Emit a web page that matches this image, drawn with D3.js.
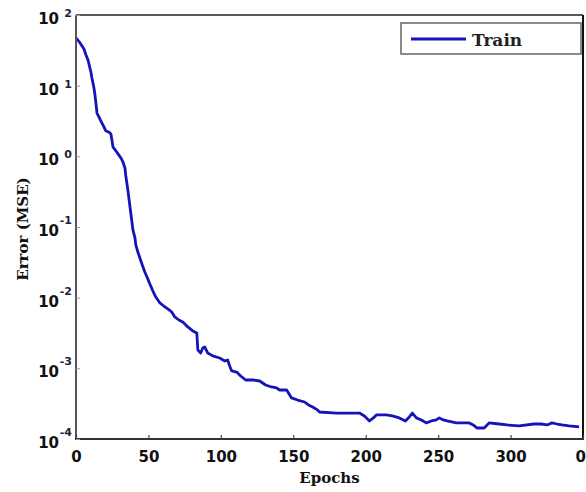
<!DOCTYPE html>
<html>
<head>
<meta charset="utf-8">
<script src="https://cdn.jsdelivr.net/npm/d3@7"></script>
<style>
  html, body { margin: 0; padding: 0; background: #fff; }
  svg { display: block; }
</style>
</head>
<body>
<svg id="chart" width="586" height="492"></svg>
<script>
// ---- data ----
const epochs = [0,2.8,5.5,6.9,8.3,9.6,10.3,11,11.7,12.4,13.1,13.8,14.5,15.8,17.9,19.3,20.7,22.7,24.1,24.8,25.5,27.6,29.6,31,32.4,33.8,34.4,35.1,35.8,36.5,37.2,37.9,38.6,39.3,40.7,41.3,42.7,44.1,45.5,47.5,49.6,51,53.1,55.1,57.9,60.6,63.4,66.1,68.2,71,73.7,77.2,80.6,83.4,84.1,86.1,87.5,88.9,90.9,94.4,99.2,102.7,104.7,106.1,107.5,110.9,113.7,117.1,122,126.8,130.9,135,138.5,140.6,145.4,148.8,153,157.8,160.5,163.3,166.7,168.1,179.8,188.8,195.7,199.1,202.6,205.3,207.4,214.3,218.4,223.2,227.4,230.1,232.2,235,238.4,241.8,245.3,248.7,250.8,253.5,256.3,262.5,271.5,274.2,277,281.8,285.2,292.1,297.6,305.9,316.2,321.1,325.2,328.6,332.1,335.5,340.4,347.3];
const trainMSE = [47.3,40.2,33.0,27.2,23.1,17.8,15.6,12.8,10.9,9.27,7.38,5.51,4.10,3.61,2.96,2.60,2.28,2.21,2.07,1.70,1.36,1.19,1.04,0.948,0.832,0.684,0.527,0.420,0.334,0.258,0.198,0.153,0.118,0.0908,0.0700,0.0557,0.0443,0.0365,0.0300,0.0231,0.0184,0.0156,0.0124,0.0102,0.00841,0.00762,0.00692,0.00627,0.00533,0.00483,0.00453,0.00385,0.00338,0.00316,0.00182,0.00165,0.00194,0.00200,0.00165,0.00150,0.00140,0.00127,0.00131,0.00108,0.000918,0.000887,0.000780,0.000684,0.000684,0.000662,0.000581,0.000545,0.000527,0.000494,0.000494,0.000381,0.000356,0.000334,0.000303,0.000284,0.000258,0.000241,0.000233,0.000233,0.000233,0.000212,0.000180,0.000199,0.000219,0.000219,0.000212,0.000199,0.000180,0.000205,0.000233,0.000199,0.000186,0.000169,0.000180,0.000186,0.000199,0.000186,0.000180,0.000169,0.000169,0.000158,0.000143,0.000143,0.000169,0.000163,0.000158,0.000153,0.000163,0.000163,0.000158,0.000169,0.000163,0.000158,0.000153,0.000148];
const xTicks = [0,50,100,150,200,250,300,350];
const xTickLabels = ["0","50","100","150","200","250","300","0"];
const yTickExps = [2,1,0,-1,-2,-3,-4];
const seriesName = "Train";
const xLabel = "Epochs";
const yLabel = "Error (MSE)";

// ---- layout ----
const W = 586, H = 492;
const L = 76, R = 583, T = 15, B = 439;
const lineColor = "#1414b8";

const svg = d3.select("#chart");
const x = d3.scaleLinear().domain([0, 350]).range([L, R]);
const y = d3.scaleLog().domain([1e-4, 1e2]).range([B, T]);

// plot background
svg.append("rect").attr("x", L).attr("y", T).attr("width", R - L).attr("height", B - T).attr("fill", "#fff");

// data line
const pts = epochs.map((e, i) => [e, trainMSE[i]]);
const line = d3.line().x(d => x(d[0])).y(d => y(d[1]));
svg.append("path").datum(pts)
  .attr("d", line)
  .attr("fill", "none")
  .attr("stroke", lineColor)
  .attr("stroke-width", 2.8)
  .attr("stroke-linejoin", "round");

// frame: top & right black, left & bottom dark gray
svg.append("line").attr("x1", L).attr("x2", R).attr("y1", T).attr("y2", T).attr("stroke", "#222").attr("stroke-width", 1.3);
svg.append("line").attr("x1", R).attr("x2", R).attr("y1", T).attr("y2", B + 1).attr("stroke", "#111").attr("stroke-width", 2);
svg.append("line").attr("x1", L).attr("x2", L).attr("y1", T).attr("y2", B + 1).attr("stroke", "#555").attr("stroke-width", 2);
svg.append("line").attr("x1", L - 1).attr("x2", R + 1).attr("y1", B).attr("y2", B).attr("stroke", "#333").attr("stroke-width", 2);

// x axis ticks (inside) and labels
const xAxis = d3.axisBottom(x).tickValues(xTicks).tickSizeInner(-4).tickSizeOuter(0)
  .tickFormat((d, i) => xTickLabels[i]);
const gx = svg.append("g").attr("transform", `translate(0,${B})`).call(xAxis);
gx.select(".domain").remove();
gx.selectAll(".tick line").attr("stroke", "#444").attr("stroke-width", 1.2);
gx.selectAll(".tick text")
  .attr("y", 0).attr("dy", 23)
  .attr("font-family", "'DejaVu Sans', Verdana, sans-serif")
  .attr("font-weight", "bold").attr("font-size", 15).attr("fill", "#111");
gx.selectAll(".tick").filter(d => d === 350).select("text")
  .attr("text-anchor", "end").attr("dx", 2.5);

// y axis ticks (inside)
const yTickVals = yTickExps.map(e => Math.pow(10, e));
const yAxis = d3.axisLeft(y).tickValues(yTickVals).tickSizeInner(-4).tickSizeOuter(0).tickFormat("");
const gy = svg.append("g").attr("transform", `translate(${L},0)`).call(yAxis);
gy.select(".domain").remove();
gy.selectAll(".tick line").attr("stroke", "#999").attr("stroke-width", 1);

// y tick labels: "10" with superscript exponent
const yl = svg.append("g");
yTickExps.forEach(e => {
  const ty = y(Math.pow(10, e));
  yl.append("text")
    .attr("x", 59).attr("y", ty + 9)
    .attr("text-anchor", "end")
    .attr("font-family", "'DejaVu Sans', Verdana, sans-serif")
    .attr("font-weight", "bold").attr("font-size", 15).attr("fill", "#111")
    .text("10");
  yl.append("text")
    .attr("x", 72).attr("y", ty + 9 - (e >= 0 ? 7 : 12))
    .attr("text-anchor", "end")
    .attr("font-family", "'DejaVu Sans', Verdana, sans-serif")
    .attr("font-weight", "bold").attr("font-size", 11).attr("fill", "#1b2340")
    .text(e < 0 ? "-" + Math.abs(e) : String(e));
});

// axis titles
svg.append("text")
  .attr("x", (L + R) / 2).attr("y", 483)
  .attr("text-anchor", "middle")
  .attr("font-family", "'DejaVu Serif', serif")
  .attr("font-weight", "bold").attr("font-size", 15).attr("fill", "#111")
  .text(xLabel);
svg.append("text")
  .attr("transform", `translate(28,${(T + B) / 2 + 2}) rotate(-90)`)
  .attr("text-anchor", "middle")
  .attr("font-family", "'DejaVu Serif', serif")
  .attr("font-weight", "bold").attr("font-size", 15).attr("fill", "#111")
  .text(yLabel);

// legend
const lg = svg.append("g");
lg.append("rect").attr("x", 401).attr("y", 23).attr("width", 180).attr("height", 31)
  .attr("fill", "#fff").attr("stroke", "#666").attr("stroke-width", 1.5);
lg.append("line").attr("x1", 411).attr("x2", 466).attr("y1", 39).attr("y2", 39)
  .attr("stroke", lineColor).attr("stroke-width", 3);
lg.append("text").attr("x", 472).attr("y", 46)
  .attr("font-family", "'DejaVu Serif', serif")
  .attr("font-weight", "bold").attr("font-size", 17).attr("fill", "#222")
  .text(seriesName);
</script>
</body>
</html>
